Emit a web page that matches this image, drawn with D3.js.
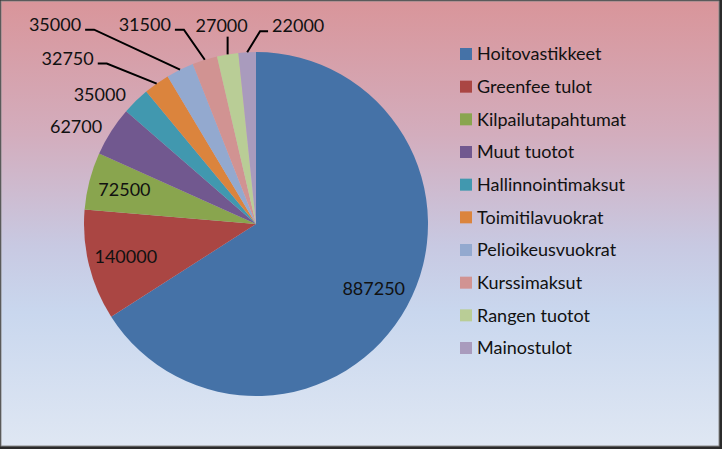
<!DOCTYPE html>
<html><head><meta charset="utf-8">
<script src="https://cdn.jsdelivr.net/npm/d3@7/dist/d3.min.js"></script>
<style>html,body{margin:0;padding:0;background:#fff;}svg{display:block;}</style>
</head><body>
<svg id="c" width="722" height="449"></svg>
<script>
// ---- data ----
const categories = ["Hoitovastikkeet","Greenfee tulot","Kilpailutapahtumat","Muut tuotot","Hallinnointimaksut","Toimitilavuokrat","Pelioikeusvuokrat","Kurssimaksut","Rangen tuotot","Mainostulot"];
const values = [887250,140000,72500,62700,35000,32750,35000,31500,27000,22000];

// ---- style / layout ----
const colors = ["#4572A7","#AA4643","#89A54E","#71588F","#4198AF","#DB843D","#93A9CF","#D19392","#B9CD96","#A99BBD"];
// label placement: inside (at fraction of radius) or outside (nudge from arc edge), with optional leader
const labelLayout = [
  {inside:0.78}, {inside:0.78}, {inside:0.79},
  {dx:-35, dy:-5}, {dx:-36, dy:-6},
  {dx:-89, dy:-25, leader:true}, {dx:-125, dy:-45, leader:true},
  {dx:-60, dy:-35, leader:true}, {dx:-6, dy:-29, leader:true},
  {dx:51, dy:-27, leader:true}
];

const W = 722, H = 449;
const svg = d3.select("#c");
const defs = svg.append("defs");
const grad = defs.append("linearGradient").attr("id","bg").attr("x1",0).attr("y1",0).attr("x2",0).attr("y2",1);
[["0%","#d9959a"],["30%","#d3adbd"],["55%","#c8c9e2"],["70%","#c9d7ee"],["100%","#dfe7f3"]]
  .forEach(s=>grad.append("stop").attr("offset",s[0]).attr("stop-color",s[1]));

svg.append("rect").attr("x",0).attr("y",0).attr("width",W).attr("height",H).attr("fill","#2b2b2b");
svg.append("rect").attr("x",1).attr("y",1).attr("width",W-4).attr("height",H-4).attr("fill","url(#bg)")
  .attr("stroke","#8a8a8a").attr("stroke-width",1);

const cx = 256, cy = 224, r = 172;
const font = "Lato, 'Open Sans', sans-serif";
const pie = d3.pie().sort(null).value(d=>d)(values);
const arc = d3.arc().innerRadius(0).outerRadius(r);
const g = svg.append("g").attr("transform",`translate(${cx},${cy})`);
g.selectAll("path").data(pie).join("path").attr("d",arc).attr("fill",(d,i)=>colors[i]);

const fmt = d3.format("d");
const lg = svg.append("g");
pie.forEach((d,i)=>{
  const L = labelLayout[i];
  const a = (d.startAngle+d.endAngle)/2;
  const ux = Math.sin(a), uy = -Math.cos(a);
  let x, y;
  const ex = cx + ux*r, ey = cy + uy*r;
  if (L.inside) { x = cx + ux*r*L.inside; y = cy + uy*r*L.inside; }
  else { x = ex + L.dx; y = ey + L.dy; }
  const t = lg.append("text").attr("x",x).attr("y",y).attr("dy","0.35em")
    .attr("text-anchor","middle").attr("font-family",font).attr("font-size",18)
    .attr("fill","#111").text(fmt(values[i]));
  if (L.leader) {
    const bb = t.node().getBBox();
    let pts;
    if (Math.abs(x-ex) < 12) {
      pts = [[ex, bb.y+bb.height+1],[ex, ey]];
    } else if (x < ex) {
      const sx = bb.x+bb.width+4;
      pts = [[sx, y+5],[sx+9, y+5],[ex, ey]];
    } else {
      const sx = bb.x-4;
      pts = [[sx, y+6],[sx-8, y+6],[ex, ey]];
    }
    lg.append("path").attr("d",d3.line()(pts)).attr("fill","none").attr("stroke","#000").attr("stroke-width",2);
  }
});

// legend
const ly = d3.scalePoint().domain(categories).range([54,348]);
const leg = svg.append("g");
categories.forEach((c,i)=>{
  leg.append("rect").attr("x",460).attr("y",ly(c)-6).attr("width",12).attr("height",12).attr("fill",colors[i]);
  leg.append("text").attr("x",477).attr("y",ly(c)).attr("dy","0.35em")
    .attr("font-family",font).attr("font-size",18).attr("fill","#111").text(c);
});
</script>
</body></html>
